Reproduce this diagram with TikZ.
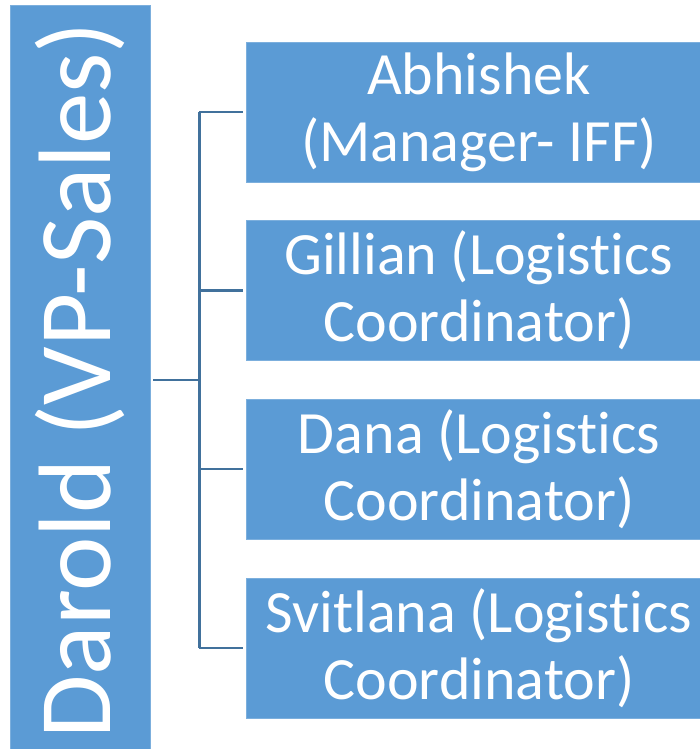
\documentclass[tikz,border=0pt]{standalone}
\usepackage{fontspec}
\setmainfont{Carlito}[Ligatures={NoCommon}]
\usetikzlibrary{positioning}
\definecolor{orgblue}{HTML}{5B9BD5}
\definecolor{linkblue}{HTML}{41719C}
\tikzset{
  unit/.style={fill=orgblue, draw=orgblue!80!white, line width=0.6pt, text=white, align=center, inner sep=0pt,
    minimum width=465pt, minimum height=140pt, font=\fontsize{60}{67}\selectfont},
  link/.style={draw=linkblue, line width=2.4pt}
}
\begin{document}
\begin{tikzpicture}[x=1pt, y=-1pt, node distance=38pt]
  \useasboundingbox (0,0) rectangle (700,749);
  % Head, rotated
  \node[unit, rotate=90, minimum width=750pt, minimum height=140pt,
    font=\fontsize{103}{110}\selectfont] (darold) at (80,380) {Darold (VP-Sales)};

  % Reports
  \node[unit] (abhishek) at (479,112) {Abhishek\\(Manager- IFF)};
  \node[unit, below=38pt of abhishek] (gillian) {Gillian (Logistics\\Coordinator)};
  \node[unit, below=38pt of gillian] (dana) {Dana (Logistics\\Coordinator)};
  \node[unit, below=38pt of dana] (svitlana) {Svitlana (Logistics\\Coordinator)};

  % Connectors
  \coordinate (hub) at ([xshift=49pt]darold.south);
  \draw[link, shorten <=3pt] (darold.south) -- (hub);
  \draw[link] (hub|-abhishek.west) -- (hub|-svitlana.west);
  \foreach \n in {abhishek,gillian,dana,svitlana}
    \draw[link, shorten >=3pt] (hub|-\n.west) -- (\n.west);
\end{tikzpicture}
\end{document}
